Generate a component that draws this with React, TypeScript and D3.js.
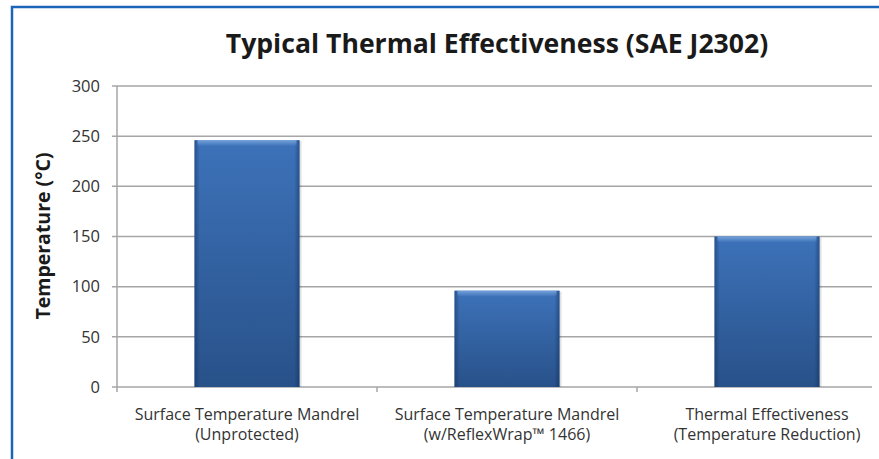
import React from "react";
import * as d3 from "d3";

// chart data
const categories = ["unprotected", "reflexwrap", "effectiveness"];
const categoryLines = [
  ["Surface Temperature Mandrel", "(Unprotected)"],
  ["Surface Temperature Mandrel", "(w/ReflexWrap™ 1466)"],
  ["Thermal Effectiveness", "(Temperature Reduction)"],
];
const temperatures = [246, 96, 150];
const yTicks = [0, 50, 100, 150, 200, 250, 300];

const chartTitle = "Typical Thermal Effectiveness (SAE J2302)";
const yTitle = "Temperature (°C)";

const width = 879;
const height = 459;
const margin = { top: 86, right: 7, bottom: 72, left: 117 };
const gridRight = 872;
const font = "'Open Sans', 'Liberation Sans', sans-serif";

const App = () => {
  // scales
  const y = d3
    .scaleLinear()
    .domain([0, 300])
    .range([height - margin.bottom, margin.top]);

  const x = d3
    .scaleBand()
    .domain(categories)
    .range([margin.left, 897])
    .paddingInner(0.596)
    .paddingOuter(0.298);

  const step = x.step();
  const y0 = y(0);

  return (
    <svg
      width={width}
      height={height}
      style={{ position: "absolute", left: 0, top: 0, background: "#fff" }}
    >
      <defs>
        <linearGradient id="bar-fill" x1="0" x2="0" y1="0" y2="1">
          <stop offset="0%" stopColor="#3d72b9" />
          <stop offset="100%" stopColor="#285189" />
        </linearGradient>
        <linearGradient id="bar-sides" x1="0" x2="1" y1="0" y2="0">
          <stop offset="0%" stopColor="#0d2a55" stopOpacity="0.45" />
          <stop offset="5%" stopColor="#0d2a55" stopOpacity="0" />
          <stop offset="95%" stopColor="#0d2a55" stopOpacity="0" />
          <stop offset="100%" stopColor="#0d2a55" stopOpacity="0.45" />
        </linearGradient>
        <linearGradient id="bar-top" x1="0" x2="0" y1="0" y2="1">
          <stop offset="0%" stopColor="#7aa6dd" stopOpacity="0.9" />
          <stop offset="100%" stopColor="#7aa6dd" stopOpacity="0" />
        </linearGradient>
      </defs>

      {/* outer frame, cut off at the right and bottom */}
      <rect
        x={12}
        y={7}
        width={900}
        height={500}
        fill="none"
        stroke="#1c64b9"
        strokeWidth={2.5}
      />

      {/* title */}
      <text
        x={497}
        y={53}
        textAnchor="middle"
        fontFamily={font}
        fontWeight="bold"
        fontSize={26.6}
        fill="#1a1a1a"
      >
        {chartTitle}
      </text>

      {/* horizontal grid lines and y ticks */}
      {yTicks.map((t) => (
        <g key={t}>
          <line
            x1={margin.left - 5}
            x2={gridRight}
            y1={y(t)}
            y2={y(t)}
            stroke="#a6a6a6"
            strokeWidth={1.5}
          />
          <text
            x={100}
            y={y(t)}
            dy="0.35em"
            textAnchor="end"
            fontFamily={font}
            fontSize={16.5}
            fill="#333"
          >
            {t}
          </text>
        </g>
      ))}

      {/* y axis line */}
      <line
        x1={margin.left}
        x2={margin.left}
        y1={y(300)}
        y2={y0 + 5}
        stroke="#a6a6a6"
        strokeWidth={1.5}
      />

      {/* category separator ticks */}
      {categories.slice(1).map((c) => (
        <line
          key={c}
          x1={(x(c) as number) - (step * x.paddingInner()) / 2}
          x2={(x(c) as number) - (step * x.paddingInner()) / 2}
          y1={y0}
          y2={y0 + 5}
          stroke="#a6a6a6"
          strokeWidth={1.5}
        />
      ))}

      {/* bars */}
      {categories.map((c, i) => {
        const bx = x(c) as number;
        const by = y(temperatures[i]);
        const bw = x.bandwidth();
        const bh = y0 - by;
        return (
          <g key={c}>
            <rect x={bx + 2} y={by + 1} width={bw} height={bh - 1} fill="#000" opacity={0.12} />
            <rect x={bx} y={by} width={bw} height={bh} fill="url(#bar-fill)" />
            <rect x={bx} y={by} width={bw} height={bh} fill="url(#bar-sides)" />
            <rect x={bx + 3} y={by} width={bw - 6} height={6} fill="url(#bar-top)" />
          </g>
        );
      })}

      {/* category labels */}
      {categories.map((c, i) => (
        <text
          key={c}
          x={(x(c) as number) + x.bandwidth() / 2}
          y={420}
          textAnchor="middle"
          fontFamily={font}
          fontSize={16}
          fill="#333"
        >
          {categoryLines[i].map((line, j) => (
            <tspan key={j} x={(x(c) as number) + x.bandwidth() / 2} dy={j === 0 ? 0 : 20}>
              {line}
            </tspan>
          ))}
        </text>
      ))}

      {/* y axis title */}
      <text
        transform="translate(45,236) rotate(-90)"
        textAnchor="middle"
        dominantBaseline="middle"
        fontFamily={font}
        fontWeight="bold"
        fontSize={19.5}
        fill="#1a1a1a"
      >
        {yTitle}
      </text>
    </svg>
  );
};

export default App;
